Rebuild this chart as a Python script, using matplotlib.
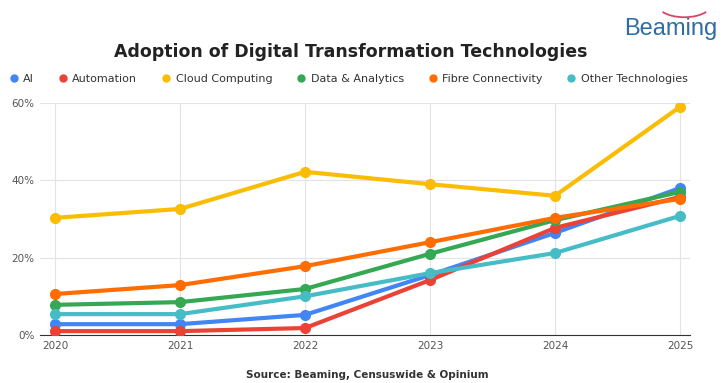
import matplotlib.pyplot as plt
from matplotlib.patches import Arc

years = [2020, 2021, 2022, 2023, 2024, 2025]
series_names = ["AI", "Automation", "Cloud Computing", "Data & Analytics",
                "Fibre Connectivity", "Other Technologies"]
ai = [2.8, 2.8, 5.2, 15.5, 26.4, 38.0]
automation = [1.0, 1.0, 1.8, 14.2, 27.7, 35.7]
cloud = [30.3, 32.6, 42.2, 39.0, 36.0, 59.0]
data_analytics = [7.8, 8.5, 11.9, 21.0, 29.7, 37.0]
fibre = [10.6, 12.9, 17.8, 24.0, 30.3, 35.2]
other = [5.4, 5.4, 10.0, 16.0, 21.2, 30.8]
yticks = [0, 20, 40, 60]

colors = ["#4285F4", "#EA4335", "#FBBC04", "#34A853", "#FF6D01", "#46BDC6"]
all_series = [ai, automation, cloud, data_analytics, fibre, other]

fig = plt.figure(figsize=(7.28, 3.83), dpi=100)
ax = fig.add_axes([40 / 728, 48 / 383, 650 / 728, 232 / 383])

for name, vals, c in zip(series_names, all_series, colors):
    ax.plot(years, vals, color=c, lw=3.0, marker="o", markersize=7,
            label=name, solid_capstyle="round", zorder=3)

ax.set_xlim(2019.88, 2025.08)
ax.set_ylim(0, 60)
ax.set_xticks(years)
ax.set_xticklabels([str(y) for y in years], fontsize=7.5, color="#555555")
ax.set_yticks(yticks)
ax.set_yticklabels([f"{v}%" for v in yticks], fontsize=7.5, color="#555555")
ax.tick_params(length=0, pad=4)
ax.grid(True, color="#e3e3e3", lw=0.8)
for s in ["top", "right", "left"]:
    ax.spines[s].set_visible(False)
ax.spines["bottom"].set_color("#333333")
ax.spines["bottom"].set_linewidth(0.8)

fig.text(0.482, 0.865, "Adoption of Digital Transformation Technologies",
         ha="center", va="center", fontsize=12.5, fontweight="bold", color="#222222")

leg_handles = [plt.Line2D([], [], color=c, marker="o", lw=0, markersize=5)
               for c in colors]
fig.legend(leg_handles, series_names, loc="center", bbox_to_anchor=(0.478, 0.794),
           ncol=6, frameon=False, fontsize=8, handletextpad=0.35,
           columnspacing=2.1, handlelength=1.0, labelcolor="#333333")

fig.text(0.504, 0.022, "Source: Beaming, Censuswide & Opinium", ha="center",
         va="center", fontsize=7.5, fontweight="bold", color="#333333")

# company logo in the corner
fig.text(0.858, 0.923, "Beaming", ha="left", va="center", fontsize=17,
         color="#2e6da4", fontfamily="Liberation Sans")
arc = Arc((0.94, 0.99), 0.075, 0.07, theta1=215, theta2=325,
          transform=fig.transFigure, color="#d9446a", lw=1.3)
fig.add_artist(arc)

fig.savefig("out.png", dpi=100)
